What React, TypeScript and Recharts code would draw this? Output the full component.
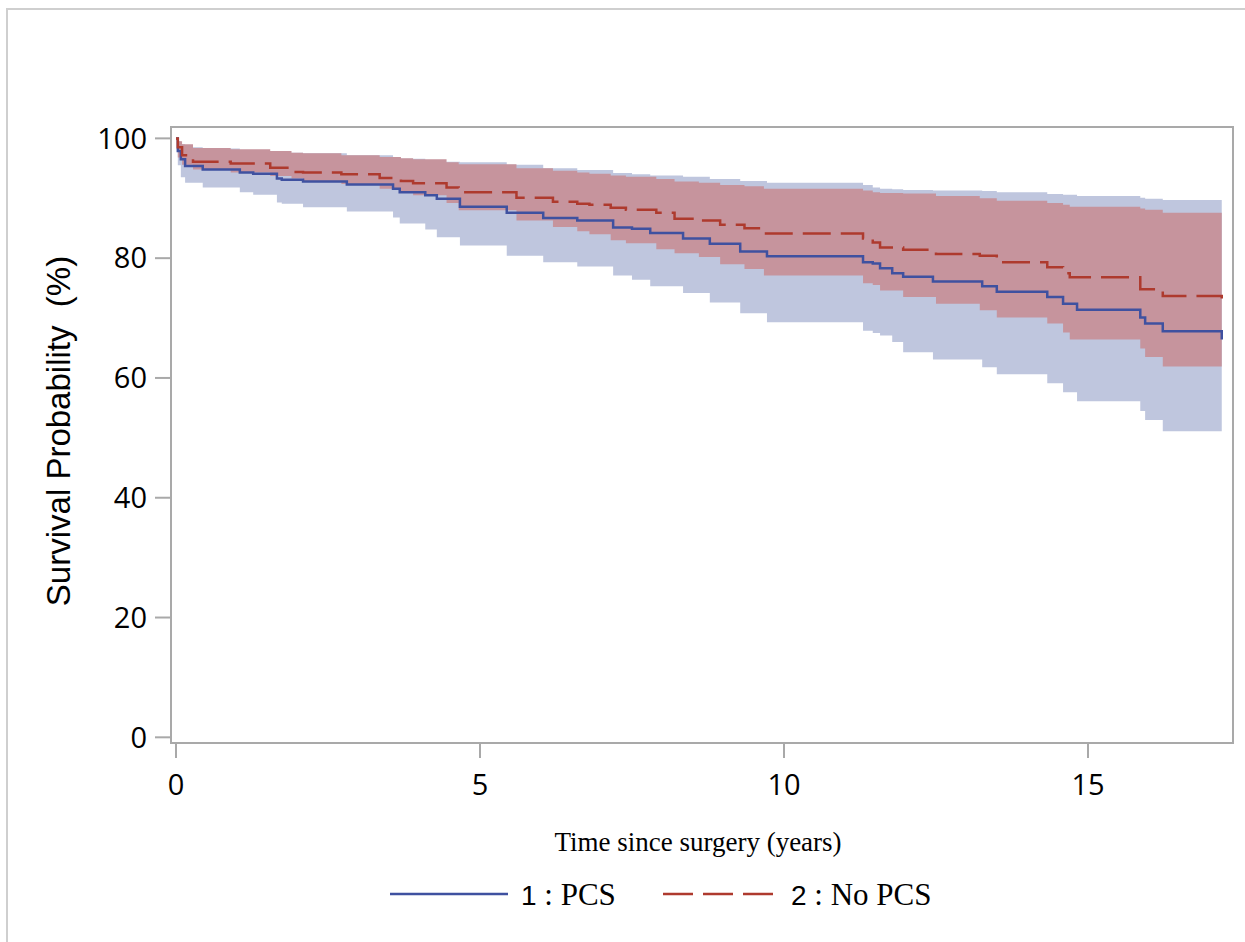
import { ComposedChart, Area, Line, XAxis, YAxis, ReferenceArea } from "recharts";

// Kaplan-Meier estimates (years, %)
const pcsTime = [0, 0.03, 0.08, 0.15, 0.44, 1.05, 1.27, 1.66, 1.74, 2.09, 2.81, 3.57, 3.68, 4.1, 4.29, 4.67, 5.44, 6.04, 6.6, 7.19, 7.5, 7.8, 8.34, 8.78, 9.28, 9.72, 11.3, 11.46, 11.58, 11.78, 11.96, 12.45, 13.26, 13.5, 14.33, 14.59, 14.82, 15.86, 15.94, 16.23, 17.2];
const pcsSurv = [100, 97.9, 96.5, 95.4, 94.8, 94.3, 94.1, 93.3, 93.1, 92.8, 92.3, 91.6, 91.0, 90.5, 89.9, 88.6, 87.6, 86.7, 86.3, 85.1, 84.9, 84.2, 83.3, 82.4, 81.1, 80.3, 79.3, 79.1, 78.3, 77.5, 76.9, 76.1, 75.3, 74.4, 73.5, 72.4, 71.4, 70.1, 69.1, 67.8, 66.4];
const pcsLower = [100, 95.5, 93.5, 92.6, 91.8, 91.0, 90.6, 89.3, 89.1, 88.5, 87.8, 86.8, 85.8, 84.8, 83.5, 82.1, 80.4, 79.3, 78.6, 77.1, 76.4, 75.3, 74.2, 72.6, 70.8, 69.3, 67.9, 67.5, 67.1, 66.0, 64.3, 63.1, 61.8, 60.6, 59.1, 57.6, 56.1, 54.5, 53.0, 51.1, 49.1];
const pcsUpper = [100, 99.5, 99.0, 98.5, 98.3, 98.0, 97.8, 97.6, 97.6, 97.5, 97.2, 96.8, 96.6, 96.3, 96.1, 96.0, 95.6, 95.0, 94.7, 94.2, 94.0, 93.8, 93.6, 93.2, 92.9, 92.6, 92.2, 91.8, 91.6, 91.5, 91.4, 91.3, 91.2, 91.0, 90.7, 90.6, 90.4, 90.1, 89.9, 89.7, 89.7];

const noPcsTime = [0, 0.03, 0.1, 0.28, 0.9, 1.55, 1.9, 2.09, 2.72, 3.35, 3.7, 3.9, 4.45, 4.65, 5.6, 6.2, 6.6, 6.8, 7.15, 7.4, 7.9, 8.2, 8.6, 8.95, 9.35, 9.67, 11.3, 11.46, 11.58, 11.96, 12.5, 13.22, 13.5, 14.33, 14.59, 14.7, 15.86, 15.94, 16.23, 17.2];
const noPcsSurv = [100, 98.5, 97.2, 96.1, 95.8, 95.1, 94.4, 94.3, 94.0, 93.4, 92.9, 92.5, 91.8, 91.0, 90.1, 89.4, 89.1, 88.9, 88.4, 88.1, 87.6, 86.6, 86.3, 85.6, 85.0, 84.1, 83.3, 82.6, 81.8, 81.4, 80.7, 80.4, 79.3, 78.5, 77.5, 76.8, 74.8, 74.8, 73.7, 72.4];
const noPcsLower = [100, 96.8, 95.6, 94.8, 94.3, 93.7, 93.3, 92.8, 92.4, 91.6, 91.2, 90.5, 89.2, 88.0, 86.3, 85.2, 84.5, 84.0, 83.0, 82.5, 81.5, 80.8, 80.2, 79.0, 78.2, 77.1, 75.8, 75.5, 74.6, 73.5, 72.4, 71.3, 70.1, 69.1, 67.6, 66.4, 64.9, 63.5, 61.9, 61.9];
const noPcsUpper = [100, 99.5, 99.0, 98.4, 98.2, 97.9, 97.6, 97.5, 97.2, 96.9, 96.7, 96.5, 96.0, 95.7, 95.0, 94.6, 94.3, 94.1, 93.8, 93.6, 93.2, 92.8, 92.6, 92.2, 92.0, 91.6, 91.3, 91.0, 90.9, 90.8, 90.4, 90.0, 89.6, 89.2, 88.9, 88.6, 88.3, 88.1, 87.6, 87.6];

const xTicks = [0, 5, 10, 15];
const yTicks = [0, 20, 40, 60, 80, 100];
const xDomain = [-0.082, 17.385];
const yDomain = [-0.95, 101.9];

const buildRows = (time: number[], surv: number[], lower: number[], upper: number[]) =>
  time.map((t, i) => ({ t, s: surv[i], lo: lower[i], hi: upper[i] }));

const pcsRows = buildRows(pcsTime, pcsSurv, pcsLower, pcsUpper);
const noPcsRows = buildRows(noPcsTime, noPcsSurv, noPcsLower, noPcsUpper);

const BLUE = "#3F51A0";
const RED = "#AE3A2E";
const AXIS = "#a9a9a9";
const tickFont = { fontFamily: "'Open Sans', sans-serif", fontSize: 29, fill: "#000" };

export default function App() {
  return (
    <div style={{ position: "absolute", left: 0, top: 0, width: 1245, height: 942, background: "#fff", overflow: "hidden" }}>
      {/* outer frame */}
      <div style={{ position: "absolute", left: 6, top: 8, width: 1300, height: 1000, borderLeft: "2px solid #cfcfcf", borderTop: "2px solid #cfcfcf" }} />

      <div style={{ position: "absolute", left: 0, top: 0 }}>
        <ComposedChart width={1245} height={942} margin={{ top: 127, right: 12, bottom: 139, left: 71 }}>
          <XAxis
            type="number"
            dataKey="t"
            domain={xDomain}
            ticks={xTicks}
            allowDataOverflow
            height={60}
            tickSize={15}
            tickMargin={16}
            axisLine={{ stroke: AXIS, strokeWidth: 2 }}
            tickLine={{ stroke: AXIS, strokeWidth: 2 }}
            tick={tickFont}
          />
          <YAxis
            type="number"
            domain={yDomain}
            ticks={yTicks}
            allowDataOverflow
            width={100}
            tickSize={16}
            tickMargin={8}
            axisLine={{ stroke: AXIS, strokeWidth: 2 }}
            tickLine={{ stroke: AXIS, strokeWidth: 2 }}
            tick={tickFont}
          />
          <Area data={pcsRows} dataKey={(d: any) => [d.lo, d.hi]} type="stepAfter" stroke="none" fill="#BFC6DE" fillOpacity={1} isAnimationActive={false} />
          <Area data={noPcsRows} dataKey={(d: any) => [d.lo, d.hi]} type="stepAfter" stroke="none" fill="#C6949D" fillOpacity={1} isAnimationActive={false} />
          <Line data={pcsRows} dataKey="s" type="stepAfter" stroke={BLUE} strokeWidth={2.5} dot={false} isAnimationActive={false} />
          <Line data={noPcsRows} dataKey="s" type="stepAfter" stroke={RED} strokeWidth={2.5} strokeDasharray="28 10" dot={false} isAnimationActive={false} />
          <ReferenceArea x1={xDomain[0]} x2={xDomain[1]} y1={yDomain[0]} y2={yDomain[1]} fill="none" stroke={AXIS} strokeWidth={2} ifOverflow="visible" />
        </ComposedChart>
      </div>

      {/* axis titles */}
      <div style={{ position: "absolute", left: 59, top: 431, transform: "translate(-50%, -50%) rotate(-90deg)", whiteSpace: "pre", fontFamily: "'Liberation Sans', Arial, sans-serif", fontSize: 33, color: "#000" }}>
        Survival Probability  (%)
      </div>
      <div style={{ position: "absolute", left: 698, top: 842, transform: "translate(-50%, -50%)", whiteSpace: "pre", fontFamily: "'Liberation Serif', 'Times New Roman', serif", fontSize: 27, color: "#000" }}>
        Time since surgery (years)
      </div>

      {/* legend */}
      <svg width={1245} height={60} style={{ position: "absolute", left: 0, top: 864 }}>
        <line x1={390} x2={508} y1={30} y2={30} stroke={BLUE} strokeWidth={2.5} />
        <text x={521} y={41} fontSize={31} fill="#000">
          <tspan fontFamily="'Liberation Sans', Arial, sans-serif" fontSize={28}>1</tspan>
          <tspan fontFamily="'Liberation Serif', 'Times New Roman', serif" xmlSpace="preserve"> : PCS</tspan>
        </text>
        <line x1={663} x2={773} y1={30} y2={30} stroke={RED} strokeWidth={2.5} strokeDasharray="30 10" />
        <text x={791} y={41} fontSize={31} fill="#000">
          <tspan fontFamily="'Liberation Sans', Arial, sans-serif" fontSize={28}>2</tspan>
          <tspan fontFamily="'Liberation Serif', 'Times New Roman', serif" xmlSpace="preserve"> : No PCS</tspan>
        </text>
      </svg>
    </div>
  );
}
